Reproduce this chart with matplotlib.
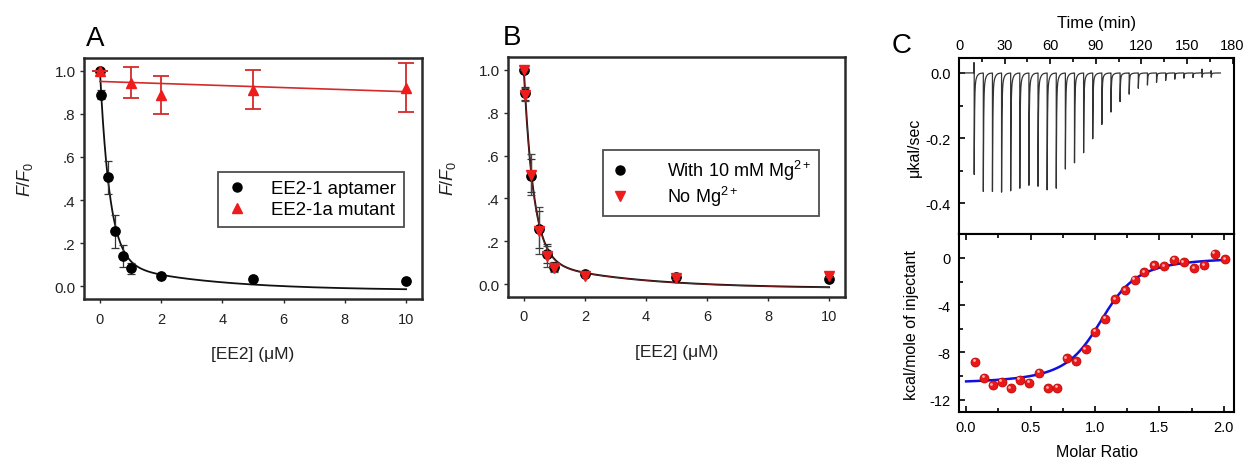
import numpy as np
import matplotlib
matplotlib.use('Agg')
import matplotlib.pyplot as plt
from matplotlib.ticker import MultipleLocator, FixedLocator, FixedFormatter
from matplotlib.lines import Line2D
import matplotlib.transforms as mtrans

plt.rcParams['font.family'] = ['Liberation Sans', 'DejaVu Sans']
plt.rcParams['mathtext.fontset'] = 'custom'
plt.rcParams['mathtext.rm'] = 'Liberation Sans'
plt.rcParams['mathtext.it'] = 'Liberation Sans:italic'
plt.rcParams['mathtext.bf'] = 'Liberation Sans:bold'

# ---------------- Panel A / B data ----------------
conc = [0, 0.03, 0.25, 0.5, 0.75, 1, 2, 5, 10]
aptamer = [1.0, 0.89, 0.506, 0.255, 0.139, 0.082, 0.046, 0.033, 0.026]
aptamer_err = [0.0, 0.02, 0.077, 0.077, 0.05, 0.025, 0.008, 0.006, 0.006]

mutant_conc = [0, 1, 2, 5, 10]
mutant = [1.0, 0.946, 0.89, 0.913, 0.921]
mutant_err = [0.0, 0.073, 0.088, 0.091, 0.114]

with_mg = [1.0, 0.89, 0.506, 0.255, 0.142, 0.082, 0.046, 0.033, 0.026]
with_mg_err = [0.0, 0.03, 0.077, 0.085, 0.045, 0.02, 0.008, 0.006, 0.006]
no_mg = [1.0, 0.885, 0.51, 0.25, 0.13, 0.075, 0.04, 0.03, 0.04]
no_mg_err = [0.0, 0.03, 0.095, 0.11, 0.05, 0.02, 0.008, 0.006, 0.006]

# double-exponential decay fit parameters (y0, a, b, c, d)
fit_aptamer = (-0.02, 0.885, 3.12, 0.135, 0.32)
fit_no_mg = (-0.022, 0.887, 3.15, 0.135, 0.31)

# ---------------- Panel C data ----------------
inj_times = [10, 16, 22, 28, 34, 40, 46, 52, 58, 64, 70, 76, 82, 88, 94,
             100, 106, 112, 118, 124, 130, 136, 142, 148, 154, 160, 166]
peak_depth = [-0.312, -0.364, -0.364, -0.366, -0.362, -0.354, -0.345, -0.348,
              -0.359, -0.354, -0.295, -0.276, -0.245, -0.202, -0.158, -0.120,
              -0.088, -0.065, -0.047, -0.037, -0.029, -0.023, -0.019, -0.016,
              -0.014, -0.013, -0.013]
peak_up = [0.032, 0, 0, 0, 0, 0, 0, 0, 0, 0, 0, 0, 0, 0, 0, 0, 0, 0, 0, 0,
           0, 0, 0, 0, 0, 0.012, 0.007]

molar_ratio = [0.07, 0.14, 0.207, 0.277, 0.347, 0.417, 0.49, 0.565, 0.635,
               0.707, 0.78, 0.855, 0.927, 1.0, 1.078, 1.155, 1.233, 1.308,
               1.383, 1.46, 1.536, 1.614, 1.69, 1.77, 1.85, 1.93, 2.01]
heat = [-8.78, -10.16, -10.76, -10.47, -11.04, -10.33, -10.56, -9.71, -11.04,
        -10.98, -8.47, -8.75, -7.74, -6.24, -5.14, -3.50, -2.74, -1.84, -1.19,
        -0.62, -0.71, -0.14, -0.37, -0.88, -0.62, 0.37, -0.11]
# one-site binding fit parameters
itc_n, itc_dH, itc_r, itc_off = 1.07, -10.75, 0.02, 0.08

RED = '#ee1c1c'
DARK = '#2a2a2a'


def dexp(x, p):
    y0, a, b, c, d = p
    return y0 + a * np.exp(-b * x) + c * np.exp(-d * x)


def style_ab(ax):
    for s in ax.spines.values():
        s.set_linewidth(1.8)
        s.set_color(DARK)
    ax.set_xlim(-0.52, 10.52)
    ax.set_ylim(-0.06, 1.06)
    ax.xaxis.set_major_locator(FixedLocator([0, 2, 4, 6, 8, 10]))
    ax.yaxis.set_major_locator(FixedLocator([0, 0.2, 0.4, 0.6, 0.8, 1.0]))
    ax.yaxis.set_major_formatter(FixedFormatter(['0.0', '.2', '.4', '.6', '.8', '1.0']))
    ax.tick_params(direction='out', length=3, width=1, color=DARK,
                   labelcolor='#222')
    ax.tick_params(axis='x', pad=6, labelsize=10.5)
    ax.tick_params(axis='y', pad=3, labelsize=11)
    ax.set_xlabel('[EE2] (\u03bcM)', fontsize=12.5, labelpad=15, color='#222')
    ax.set_ylabel(r'$F/F_{\mathrm{0}}$', fontsize=13, color='#222')


fig = plt.figure(figsize=(12.45, 4.6), dpi=100)

# ---------------- Panel A ----------------
axA = fig.add_axes([0.0675, 0.3478, 0.2715, 0.5239])
xs = np.linspace(0, 10, 600)
axA.plot(xs, dexp(xs, fit_aptamer), color='#111', lw=1.3, zorder=2)
coef = np.polyfit(mutant_conc, mutant, 1)
axA.plot([0, 10], np.polyval(coef, [0, 10]), color='#d42a2a', lw=1.2, zorder=2)
axA.errorbar(conc, aptamer, yerr=aptamer_err, fmt='o', color='black', ms=6.7,
             ecolor='#333', elinewidth=0.9, capsize=2.8, capthick=0.9, zorder=3)
axA.errorbar(mutant_conc, mutant, yerr=mutant_err, fmt='^', color=RED, ms=7.5,
             ecolor='#d42a2a', elinewidth=1.3, capsize=6, capthick=1.3, zorder=4)
style_ab(axA)
axA.yaxis.set_label_coords(-0.145, 0.5)
hA = [Line2D([], [], marker='o', ls='none', color='black', ms=6.5),
      Line2D([], [], marker='^', ls='none', color=RED, ms=7.5)]
legA = axA.legend(hA, ['EE2-1 aptamer', 'EE2-1a mutant'], loc='upper right',
                  bbox_to_anchor=(0.947, 0.527), fontsize=13.4, frameon=True,
                  fancybox=False, edgecolor='#222', handletextpad=1.2,
                  labelspacing=0.2, borderpad=0.45, handlelength=1.2,
                  borderaxespad=0)
legA.get_frame().set_linewidth(1.3)

# ---------------- Panel B ----------------
axB = fig.add_axes([0.408, 0.3522, 0.2707, 0.5217])
axB.plot(xs, dexp(xs, fit_aptamer), color='#111', lw=1.4, zorder=2)
axB.plot(xs, dexp(xs, fit_no_mg), color='#c02020', lw=0.7, alpha=0.6, zorder=2)
axB.errorbar(conc, with_mg, yerr=with_mg_err, fmt='o', color='black', ms=6.7,
             ecolor='#333', elinewidth=0.9, capsize=2.8, capthick=0.9, zorder=3)
axB.errorbar(conc, no_mg, yerr=no_mg_err, fmt='v', color=RED, ms=7,
             ecolor='#444', elinewidth=0.9, capsize=2.8, capthick=0.9, zorder=4)
style_ab(axB)
axB.yaxis.set_label_coords(-0.148, 0.5)
hB = [Line2D([], [], marker='o', ls='none', color='black', ms=6.5),
      Line2D([], [], marker='v', ls='none', color=RED, ms=7)]
legB = axB.legend(hB, ['With 10 mM Mg$^{2+}$', 'No Mg$^{2+}$'], loc='upper right',
                  bbox_to_anchor=(0.923, 0.6125), fontsize=13, frameon=True,
                  fancybox=False, edgecolor='#222', handletextpad=2.1,
                  labelspacing=0.1, borderpad=0.45, handlelength=1.0,
                  borderaxespad=0)
legB.get_frame().set_linewidth(1.3)

# ---------------- Panel C top: thermogram ----------------
axT = fig.add_axes([0.7703, 0.4891, 0.2209, 0.3826])
t = np.arange(0, 172.0, 0.01)
trace = np.zeros_like(t)
for ti, d, up in zip(inj_times, peak_depth, peak_up):
    dt = t - ti
    m = dt >= 0
    trace[m] += d * (0.82 * np.exp(-dt[m] / 0.22) + 0.18 * np.exp(-dt[m] / 1.1))
    if up:
        trace += up * np.exp(-((t - (ti - 0.15)) / 0.06) ** 2)
axT.plot(t, trace, color='#333', lw=0.9)
axT.set_xlim(0, 181)
axT.set_ylim(-0.495, 0.046)
axT.xaxis.tick_top()
axT.xaxis.set_label_position('top')
axT.xaxis.set_major_locator(MultipleLocator(30))
axT.xaxis.set_minor_locator(MultipleLocator(15))
axT.yaxis.set_major_locator(MultipleLocator(0.2))
axT.yaxis.set_minor_locator(MultipleLocator(0.1))
axT.yaxis.set_major_formatter(matplotlib.ticker.FuncFormatter(lambda v, p: f'{v:.1f}' if abs(v) > 1e-9 else '0.0'))
axT.tick_params(which='both', direction='in', width=1.2, labelsize=10.5, top=True,
                bottom=False, left=True, right=False)
axT.tick_params(which='major', length=4)
axT.tick_params(which='minor', length=3)
axT.tick_params(axis='x', pad=4)
axT.tick_params(axis='y', pad=6)
axT.set_xlabel('Time (min)', fontsize=12, labelpad=8)
axT.set_ylabel('\u03bckal/sec', fontsize=11.5)
axT.yaxis.set_label_coords(-0.135, 0.497)
for s in axT.spines.values():
    s.set_linewidth(1.5)

# ---------------- Panel C bottom: binding isotherm ----------------
axI = fig.add_axes([0.7703, 0.1022, 0.2209, 0.3870])
xr = np.linspace(0.0, 2.03, 400)
Xn = xr / itc_n
fit_heat = itc_dH * (0.5 + (1 - Xn - itc_r) /
                     (2 * np.sqrt((1 + Xn + itc_r) ** 2 - 4 * Xn))) + itc_off
axI.plot(xr, fit_heat, color='#1010e0', lw=1.8, zorder=2)
axI.plot(molar_ratio, heat, 'o', color='#e81818', ms=6.5, mec='#b80000',
         mew=0.5, zorder=3)
hl = mtrans.offset_copy(axI.transData, fig=fig, x=-1.0, y=1.0, units='points')
axI.plot(molar_ratio, heat, 'o', color='#ffb0b0', ms=2.0, mew=0,
         transform=hl, zorder=4)
axI.set_xlim(-0.055, 2.08)
axI.set_ylim(-13.05, 2.03)
axI.xaxis.set_major_locator(MultipleLocator(0.5))
axI.xaxis.set_minor_locator(MultipleLocator(0.25))
axI.yaxis.set_major_locator(MultipleLocator(4))
axI.yaxis.set_minor_locator(MultipleLocator(2))
axI.xaxis.set_major_formatter(matplotlib.ticker.FuncFormatter(lambda v, p: f'{v:.1f}'))
axI.yaxis.set_major_formatter(matplotlib.ticker.FuncFormatter(lambda v, p: f'{int(round(v))}'))
axI.tick_params(which='both', direction='in', width=1.2, labelsize=10.5,
                top=True, bottom=True, left=True, right=False)
axI.tick_params(which='major', length=4)
axI.tick_params(which='minor', length=3)
axI.tick_params(axis='x', pad=6)
axI.tick_params(axis='y', pad=6)
axI.set_xlabel('Molar Ratio', fontsize=11.5, labelpad=7)
axI.set_ylabel('kcal/mole of injectant', fontsize=11.5)
axI.yaxis.set_label_coords(-0.145, 0.494)
for s in axI.spines.values():
    s.set_linewidth(1.5)

# panel letters
fig.text(95 / 1245, 1 - 39.5 / 460, 'A', fontsize=20, ha='center', va='center')
fig.text(511.5 / 1245, 1 - 38 / 460, 'B', fontsize=20, ha='center', va='center')
fig.text(902 / 1245, 1 - 46 / 460, 'C', fontsize=20, ha='center', va='center')

fig.savefig('out.png', dpi=100)
